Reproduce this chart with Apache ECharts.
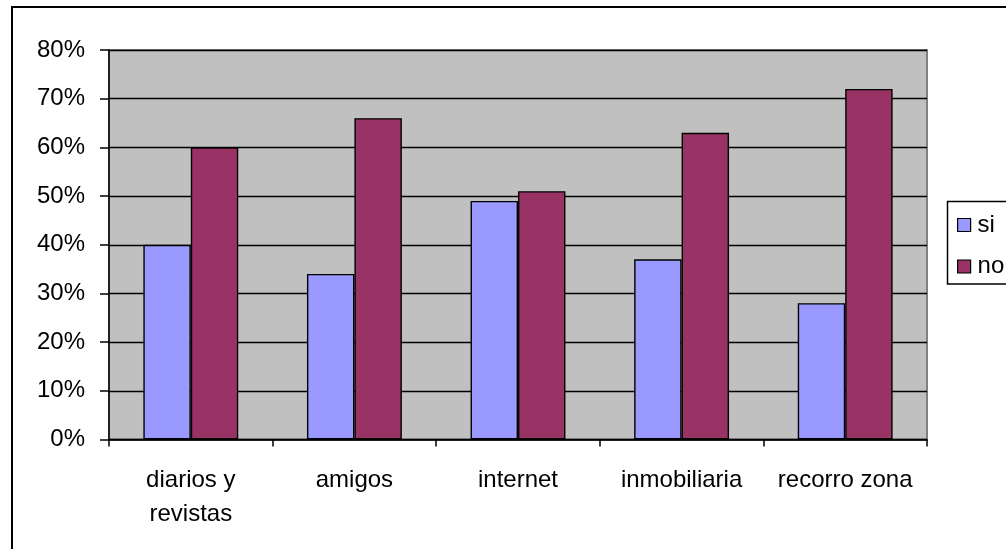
<!DOCTYPE html>
<html>
<head>
<meta charset="utf-8">
<script src="https://cdn.jsdelivr.net/npm/echarts@6/dist/echarts.min.js"></script>
<style>
  html, body { margin: 0; padding: 0; background: #ffffff; }
  #chart { width: 1006px; height: 549px; }
</style>
</head>
<body>
<div id="chart"></div>
<script>
// Categories and shares of each answer (fractions of 1)
const categories = ['diarios y\nrevistas', 'amigos', 'internet', 'inmobiliaria', 'recorro zona'];
const seriesNames = ['si', 'no'];
const siValues = [0.40, 0.34, 0.49, 0.37, 0.28];
const noValues = [0.60, 0.66, 0.51, 0.63, 0.72];
const yMin = 0;
const yMax = 0.8;
const yStep = 0.1;

const FONT = "'Liberation Sans', Arial, sans-serif";
const chart = echarts.init(document.getElementById('chart'), null, { renderer: 'canvas' });

chart.setOption({
  animation: false,
  backgroundColor: '#ffffff',
  textStyle: { fontFamily: FONT, color: '#000' },
  graphic: [
    {
      // outer chart frame
      type: 'rect',
      shape: { x: 12, y: 7, width: 1100, height: 700 },
      style: { fill: 'none', stroke: '#000', lineWidth: 2 },
      silent: true,
      z: -1
    },
    {
      // legend frame, running past the right edge
      type: 'rect',
      shape: { x: 947.5, y: 201.5, width: 120, height: 82.5 },
      style: { fill: '#fff', stroke: '#000', lineWidth: 1.5 },
      silent: true,
      z: 0
    }
  ],
  grid: {
    left: 109, top: 50, right: 79, bottom: 109.5,
    show: true,
    backgroundColor: '#C0C0C0',
    borderColor: '#808080',
    borderWidth: 2
  },
  legend: {
    orient: 'vertical',
    left: 947, top: 201,
    padding: [10, 4, 4, 10],
    itemGap: 13.5,
    itemWidth: 13, itemHeight: 13,
    itemStyle: { borderColor: '#000', borderWidth: 1.2 },
    icon: 'rect',
    z: 10,
    textStyle: { fontFamily: FONT, fontSize: 24, color: '#000', lineHeight: 28, padding: [0, 0, 0, 2] },
    data: seriesNames
  },
  xAxis: {
    type: 'category',
    data: categories,
    axisLine: { lineStyle: { color: '#000', width: 1.5 } },
    axisTick: { show: true, alignWithLabel: false, length: 7, lineStyle: { color: '#000', width: 1.5 } },
    axisLabel: { interval: 0, margin: 24, fontFamily: FONT, fontSize: 24, lineHeight: 34, color: '#000' },
    splitLine: { show: false }
  },
  yAxis: {
    type: 'value',
    min: yMin, max: yMax, interval: yStep,
    axisLine: { show: true, lineStyle: { color: '#000', width: 1.5 } },
    axisTick: { show: true, length: 9, lineStyle: { color: '#000', width: 1.5 } },
    axisLabel: {
      margin: 24, fontFamily: FONT, fontSize: 24, color: '#000',
      formatter: v => Math.round(v * 100) + '%'
    },
    splitLine: { show: true, lineStyle: { color: '#000', width: 1.4 } }
  },
  series: [
    {
      name: seriesNames[0], type: 'bar', data: siValues,
      barGap: '0%', barCategoryGap: '42%',
      itemStyle: { color: '#9999FF', borderColor: '#000', borderWidth: 1.4 }
    },
    {
      name: seriesNames[1], type: 'bar', data: noValues,
      barGap: '0%', barCategoryGap: '42%',
      itemStyle: { color: '#993366', borderColor: '#000', borderWidth: 1.4 }
    }
  ]
});
</script>
</body>
</html>
